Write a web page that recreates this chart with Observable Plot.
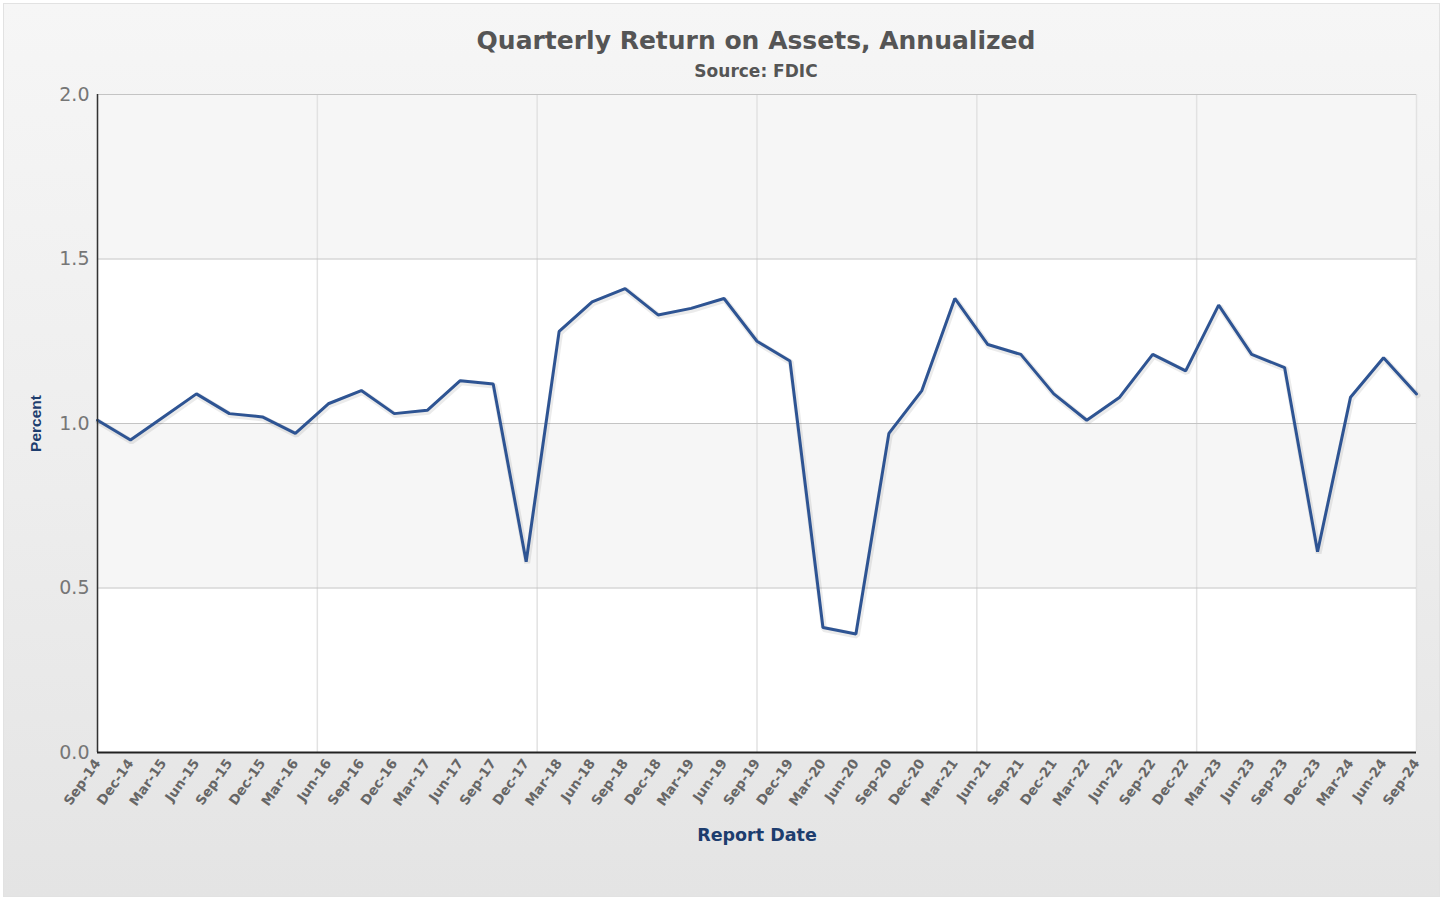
<!DOCTYPE html>
<html>
<head>
<meta charset="utf-8">
<script src="https://cdn.jsdelivr.net/npm/d3@7"></script>
<script src="https://cdn.jsdelivr.net/npm/@observablehq/plot@0.6"></script>
<style>
  html, body { margin: 0; padding: 0; background: #ffffff; }
  #chart { position: relative; width: 1445px; height: 901px; background: #ffffff; overflow: hidden; }
  #bg { position: absolute; left: 3px; top: 3px; right: 5px; bottom: 4px;
        background: linear-gradient(180deg, #f6f6f6 0%, #ededed 55%, #e4e4e4 100%);
        border: 1px solid #e2e2e2; }
  #title { position: absolute; top: 25px; left: 0; width: 1512px; text-align: center;
           font-family: "DejaVu Sans", Verdana, sans-serif; font-weight: bold; font-size: 25px;
           color: #555555; line-height: 32px; }
  #subtitle { position: absolute; top: 60px; left: 0; width: 1512px; text-align: center;
              font-family: "DejaVu Sans", Verdana, sans-serif; font-weight: bold; font-size: 17px;
              color: #555555; line-height: 22px; }
  #plot { position: absolute; left: 0; top: 80px; }
</style>
</head>
<body>
<div id="chart">
  <div id="bg"></div>
  <div id="title">Quarterly Return on Assets, Annualized</div>
  <div id="subtitle">Source: FDIC</div>
  <div id="plot"></div>
</div>
<script>
// Quarterly report dates (Sep-14 .. Sep-24)
const dates = [
  "Sep-14","Dec-14","Mar-15","Jun-15","Sep-15","Dec-15","Mar-16","Jun-16","Sep-16","Dec-16",
  "Mar-17","Jun-17","Sep-17","Dec-17","Mar-18","Jun-18","Sep-18","Dec-18","Mar-19","Jun-19",
  "Sep-19","Dec-19","Mar-20","Jun-20","Sep-20","Dec-20","Mar-21","Jun-21","Sep-21","Dec-21",
  "Mar-22","Jun-22","Sep-22","Dec-22","Mar-23","Jun-23","Sep-23","Dec-23","Mar-24","Jun-24","Sep-24"
];
// Return on assets, annualized (percent)
const roa = [
  1.01, 0.95, 1.02, 1.09, 1.03, 1.02, 0.97, 1.06, 1.10, 1.03,
  1.04, 1.13, 1.12, 0.58, 1.28, 1.37, 1.41, 1.33, 1.35, 1.38,
  1.25, 1.19, 0.38, 0.36, 0.97, 1.10, 1.38, 1.24, 1.21, 1.09,
  1.01, 1.08, 1.21, 1.16, 1.36, 1.21, 1.17, 0.61, 1.08, 1.20, 1.09
];
// Y axis ticks
const yTicks = [0, 0.5, 1.0, 1.5, 2.0];
// Alternating shaded bands
const bandLo = [0.5, 1.5];
const bandHi = [1.0, 2.0];

const data = dates.map((d, i) => ({i, date: d, value: roa[i]}));
const bands = bandLo.map((lo, k) => ({lo, hi: bandHi[k]}));
const last = dates.length - 1;
const xGrid = d3.range(7).map(k => k * last / 6);

const plot = Plot.plot({
  width: 1445,
  height: 800,
  marginTop: 14,
  marginBottom: 128,
  marginLeft: 97,
  marginRight: 29,
  style: {fontFamily: "DejaVu Sans, Verdana, sans-serif", background: "transparent", overflow: "visible"},
  x: {domain: [0, last]},
  y: {domain: [0, 2]},
  marks: [
    Plot.frame({fill: "#ffffff", stroke: null}),
    Plot.rect(bands, {y1: "lo", y2: "hi", fill: "#f6f6f6"}),
    Plot.ruleX(xGrid, {stroke: "#e2e2e2", strokeWidth: 1.5}),
    Plot.ruleY(yTicks, {stroke: "#c4c4c4", strokeWidth: 1}),
    Plot.line(data, {x: "i", y: "value", stroke: "#000", strokeOpacity: 0.08, strokeWidth: 6, dx: 1, dy: 1.5, strokeLinejoin: "miter"}),
    Plot.line(data, {x: "i", y: "value", stroke: "#2e5493", strokeWidth: 3, strokeLinejoin: "miter"}),
    Plot.ruleX([0], {stroke: "#333333", strokeWidth: 1.5}),
    Plot.ruleY([0], {stroke: "#222222", strokeWidth: 2}),
    Plot.axisY({ticks: yTicks, tickFormat: d3.format(".1f"), tickSize: 0, tickPadding: 8,
                fontSize: 19, fill: "#767676", label: null}),
    Plot.axisX({ticks: d3.range(dates.length), tickFormat: i => dates[i], tickSize: 0, tickPadding: 8,
                tickRotate: -55, fontSize: 13.5, fontWeight: "bold", fill: "#666666", label: null}),
    Plot.text(["Percent"], {frameAnchor: "left", dx: -61, rotate: -90, textAnchor: "middle", lineAnchor: "middle",
                            fontSize: 15.5, fontWeight: "bold",
                            fill: "#1d3d6e", fontFamily: "Liberation Sans, Arial, sans-serif"}),
    Plot.text(["Report Date"], {frameAnchor: "bottom", dy: 83, textAnchor: "middle", lineAnchor: "middle",
                                fontSize: 17.5, fontWeight: "bold", fill: "#1d3d6e"})
  ]
});
document.getElementById("plot").appendChild(plot);
</script>
</body>
</html>
